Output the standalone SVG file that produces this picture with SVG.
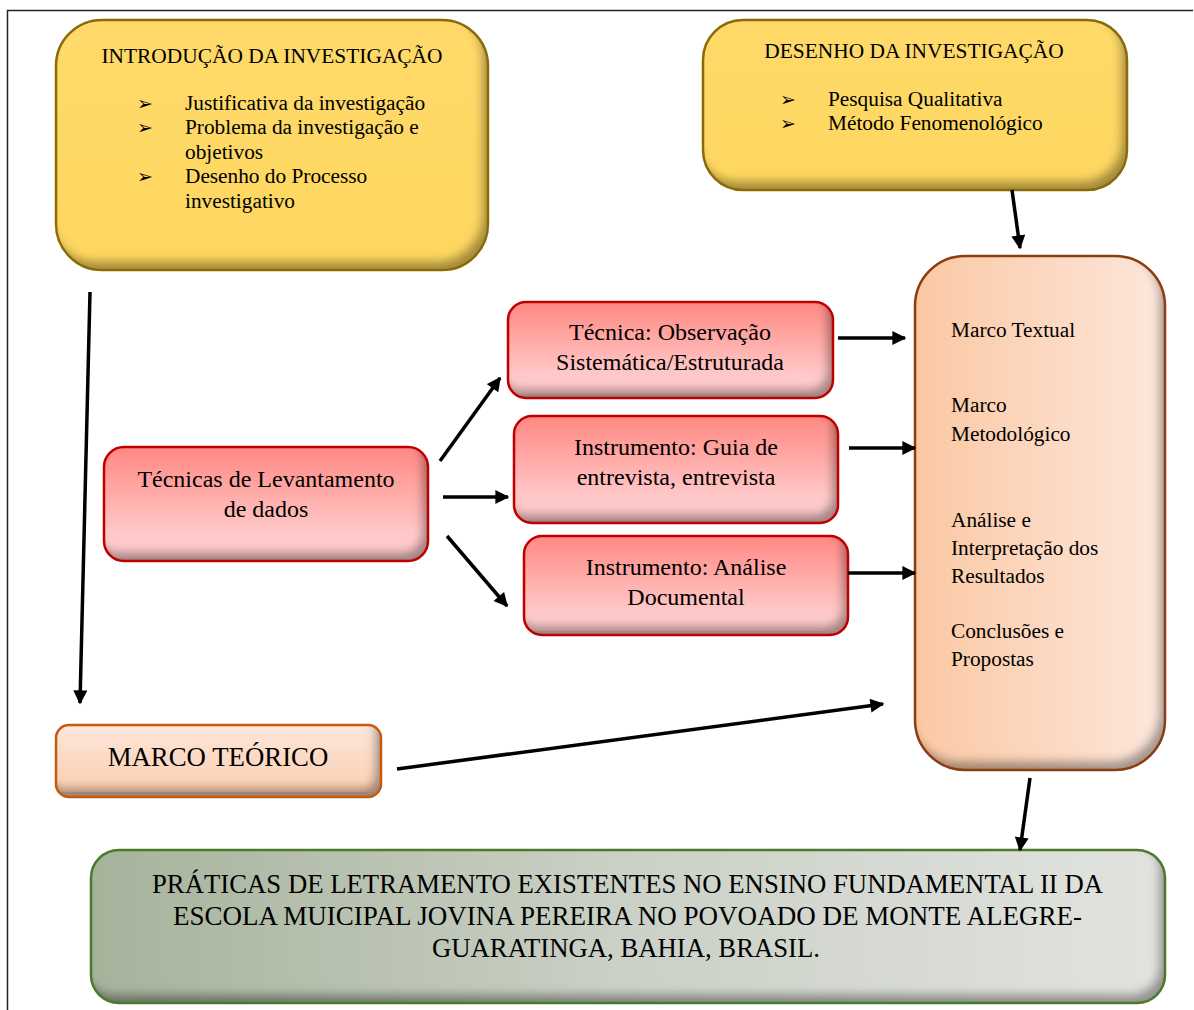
<svg xmlns="http://www.w3.org/2000/svg" width="1194" height="1010" viewBox="0 0 1194 1010" font-family="'Liberation Serif', 'DejaVu Serif', serif">
<defs>
<style>
text{font-family:'Liberation Serif','DejaVu Serif',serif;fill:#000}
text.bul{font-family:'DejaVu Sans',sans-serif;font-size:19px;font-weight:bold}
.b18{font-size:21.3px}
.r21{font-size:24px;text-anchor:middle}
.con{stroke:#000;stroke-width:3.5;fill:none;marker-end:url(#ah)}
</style>
<marker id="ah" viewBox="0 0 10 10" refX="9" refY="5" markerWidth="4.2" markerHeight="4" orient="auto" markerUnits="strokeWidth">
<path d="M0,0 L10,5 L0,10 z" fill="#000"/>
</marker>
<filter id="bevel" x="-5%" y="-5%" width="110%" height="110%">
<feGaussianBlur in="SourceAlpha" stdDeviation="5" result="b"/>
<feOffset in="b" dx="-6" dy="-9" result="o"/>
<feComposite in="SourceAlpha" in2="o" operator="out" result="inv"/>
<feFlood flood-color="#000" flood-opacity="0.62"/>
<feComposite in2="inv" operator="in" result="sh"/>
<feMerge><feMergeNode in="SourceGraphic"/><feMergeNode in="sh"/></feMerge>
</filter>
<linearGradient id="gYel" x1="0" y1="0" x2="0" y2="1"><stop offset="0" stop-color="#FFDA6A"/><stop offset="1" stop-color="#FDD760"/></linearGradient>
<linearGradient id="gRed" x1="0" y1="0" x2="0" y2="1"><stop offset="0" stop-color="#FF8882"/><stop offset="0.75" stop-color="#FFC8C8"/><stop offset="1" stop-color="#FFCECE"/></linearGradient>
<linearGradient id="gPeach" x1="0" y1="0" x2="1" y2="0"><stop offset="0" stop-color="#FBC8A3"/><stop offset="1" stop-color="#FDE7DC"/></linearGradient>
<linearGradient id="gPeachV" x1="0" y1="0" x2="0" y2="1"><stop offset="0" stop-color="#FDE6DA"/><stop offset="1" stop-color="#FBCDAE"/></linearGradient>
<linearGradient id="gGreen" x1="0" y1="0" x2="1" y2="0"><stop offset="0" stop-color="#A6B39B"/><stop offset="0.5" stop-color="#CBD1C6"/><stop offset="1" stop-color="#E2E3E0"/></linearGradient>
</defs>
<rect width="1194" height="1010" fill="#fff"/>
<g id="frame" stroke="#222" stroke-width="1.5" fill="none">
<path d="M7.5,1010 V10.5 H1193"/>
</g>

<g id="intro">
<rect x="56" y="20" width="432" height="250" rx="46" fill="url(#gYel)" filter="url(#bevel)"/>
<rect x="56" y="20" width="432" height="250" rx="46" fill="none" stroke="#8A6B08" stroke-width="2.5"/>
<text x="272" y="63" font-size="21.4" text-anchor="middle">INTRODUÇÃO DA INVESTIGAÇÃO</text>
<text class="bul" x="137" y="110">➢</text>
<text class="bul" x="137" y="134">➢</text>
<text class="bul" x="137" y="183">➢</text>
<text class="b18" x="185" y="110">Justificativa da investigação</text>
<text class="b18" x="185" y="134">Problema da investigação e</text>
<text class="b18" x="185" y="159">objetivos</text>
<text class="b18" x="185" y="183">Desenho do Processo</text>
<text class="b18" x="185" y="208">investigativo</text>
</g>

<g id="desenho">
<rect x="703" y="20" width="424" height="170" rx="40" fill="url(#gYel)" filter="url(#bevel)"/>
<rect x="703" y="20" width="424" height="170" rx="40" fill="none" stroke="#8A6B08" stroke-width="2.5"/>
<text x="914" y="58" font-size="21.4" text-anchor="middle">DESENHO DA INVESTIGAÇÃO</text>
<text class="bul" x="780" y="106">➢</text>
<text class="bul" x="780" y="130">➢</text>
<text class="b18" x="828" y="106">Pesquisa Qualitativa</text>
<text class="b18" x="828" y="130">Método Fenomenológico</text>
</g>

<g id="marcos">
<rect x="915" y="256" width="250" height="514" rx="50" fill="url(#gPeach)" filter="url(#bevel)"/>
<rect x="915" y="256" width="250" height="514" rx="50" fill="none" stroke="#8B3E12" stroke-width="2.5"/>
<text class="b18" x="951" y="337">Marco Textual</text>
<text class="b18" x="951" y="412">Marco</text>
<text class="b18" x="951" y="441">Metodológico</text>
<text class="b18" x="951" y="527">Análise e</text>
<text class="b18" x="951" y="555">Interpretação dos</text>
<text class="b18" x="951" y="583">Resultados</text>
<text class="b18" x="951" y="638">Conclusões e</text>
<text class="b18" x="951" y="666">Propostas</text>
</g>

<g id="tecnicas">
<rect x="104" y="447" width="324" height="114" rx="20" fill="url(#gRed)" filter="url(#bevel)"/>
<rect x="104" y="447" width="324" height="114" rx="20" fill="none" stroke="#C00000" stroke-width="2.5"/>
<text class="r21" x="266" y="487">Técnicas de Levantamento</text>
<text class="r21" x="266" y="517">de dados</text>
</g>

<g id="observacao">
<rect x="508" y="302" width="325" height="96" rx="18" fill="url(#gRed)" filter="url(#bevel)"/>
<rect x="508" y="302" width="325" height="96" rx="18" fill="none" stroke="#C00000" stroke-width="2.5"/>
<text class="r21" x="670" y="340">Técnica: Observação</text>
<text class="r21" x="670" y="370">Sistemática/Estruturada</text>
</g>

<g id="entrevista">
<rect x="514" y="416" width="324" height="107" rx="18" fill="url(#gRed)" filter="url(#bevel)"/>
<rect x="514" y="416" width="324" height="107" rx="18" fill="none" stroke="#C00000" stroke-width="2.5"/>
<text class="r21" x="676" y="455">Instrumento: Guia de</text>
<text class="r21" x="676" y="485">entrevista, entrevista</text>
</g>

<g id="documental">
<rect x="524" y="536" width="324" height="99" rx="18" fill="url(#gRed)" filter="url(#bevel)"/>
<rect x="524" y="536" width="324" height="99" rx="18" fill="none" stroke="#C00000" stroke-width="2.5"/>
<text class="r21" x="686" y="575">Instrumento: Análise</text>
<text class="r21" x="686" y="605">Documental</text>
</g>

<g id="marcoteorico">
<rect x="56" y="725" width="325" height="72" rx="13" fill="url(#gPeachV)" filter="url(#bevel)"/>
<rect x="56" y="725" width="325" height="72" rx="13" fill="none" stroke="#C55A11" stroke-width="2.5"/>
<text x="218" y="766" font-size="26.8" text-anchor="middle">MARCO TEÓRICO</text>
</g>

<g id="praticas">
<rect x="91" y="850" width="1074" height="153" rx="28" fill="url(#gGreen)" filter="url(#bevel)"/>
<rect x="91" y="850" width="1074" height="153" rx="28" fill="none" stroke="#4B7A2A" stroke-width="2.5"/>
<text x="152" y="893" font-size="28" textLength="951" lengthAdjust="spacingAndGlyphs">PRÁTICAS DE LETRAMENTO EXISTENTES NO ENSINO FUNDAMENTAL II DA</text>
<text x="173" y="925" font-size="28" textLength="909" lengthAdjust="spacingAndGlyphs">ESCOLA MUICIPAL JOVINA PEREIRA NO POVOADO DE MONTE ALEGRE-</text>
<text x="432" y="957" font-size="28" textLength="388" lengthAdjust="spacingAndGlyphs">GUARATINGA, BAHIA, BRASIL.</text>
</g>

<g id="connectors">
<line class="con" x1="90" y1="292" x2="80" y2="703"/>
<line class="con" x1="1012" y1="190" x2="1020" y2="248"/>
<line class="con" x1="440" y1="461" x2="500" y2="378"/>
<line class="con" x1="443" y1="497" x2="508" y2="497"/>
<line class="con" x1="447" y1="536" x2="507" y2="606"/>
<line class="con" x1="838" y1="338" x2="905" y2="338"/>
<line class="con" x1="849" y1="448" x2="915" y2="448"/>
<line class="con" x1="848" y1="573" x2="915" y2="573"/>
<line class="con" x1="397" y1="769" x2="883" y2="704"/>
<line class="con" x1="1030" y1="778" x2="1020" y2="850"/>
</g>
</svg>
